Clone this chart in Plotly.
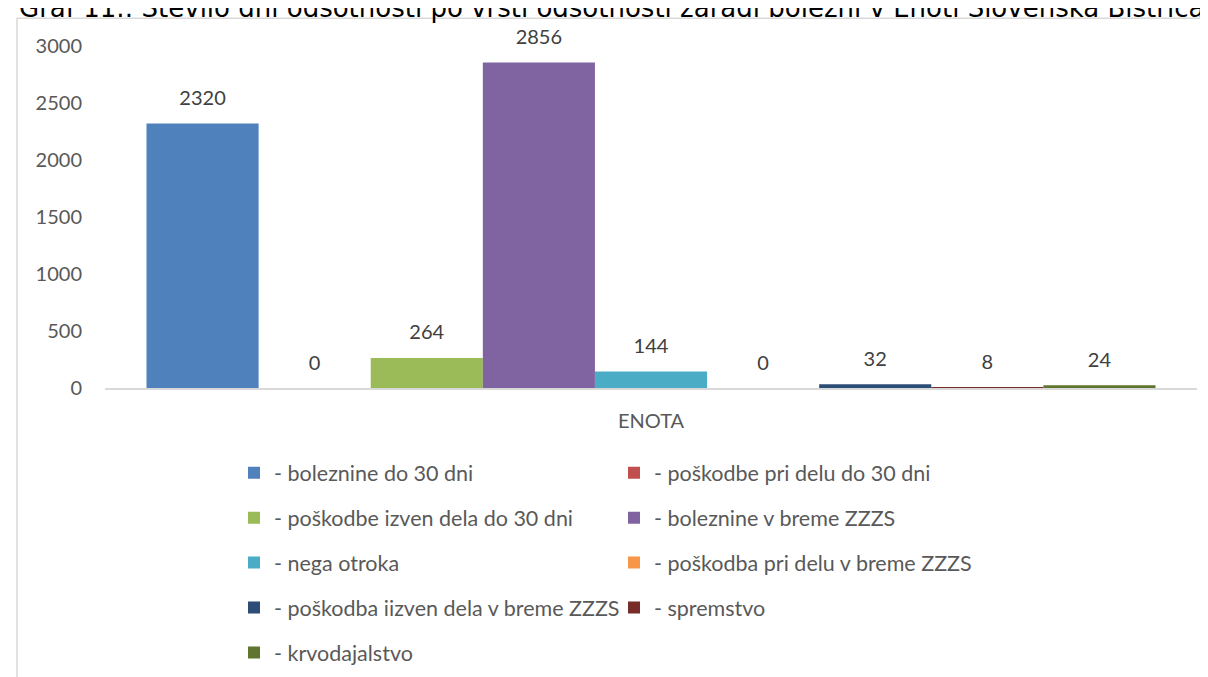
import plotly.graph_objects as go

categories = ["ENOTA"]
series_names = [
    "- boleznine do 30 dni",
    "- poškodbe pri delu do 30 dni",
    "- poškodbe izven dela do 30 dni",
    "- boleznine v breme ZZZS",
    "- nega otroka",
    "- poškodba pri delu v breme ZZZS",
    "- poškodba iizven dela v breme ZZZS",
    "- spremstvo",
    "- krvodajalstvo",
]
series_values = [2320, 0, 264, 2856, 144, 0, 32, 8, 24]
series_colors = ["#4F81BD", "#C0504D", "#9BBB59", "#8064A2", "#4BACC6",
                 "#F79646", "#2C4D75", "#772C2A", "#5F7530"]
y_ticks = [0, 500, 1000, 1500, 2000, 2500, 3000]
title_text = "Graf 11.: Število dni odsotnosti po vrsti odsotnosti zaradi bolezni v Enoti Slovenska Bistrica"

W, H = 1208, 677
ML, MR, MT, MB = 97, 19, 38, 293
PW, PH = W - ML - MR, H - MT - MB
GAP = 0.076
FONT = "Lato"

def px_x(p):
    return (p - ML) / PW

def px_y(p):
    return (H - MB - p) / PH

fig = go.Figure()
for i, (name, val, col) in enumerate(zip(series_names, series_values, series_colors)):
    fig.add_trace(go.Bar(
        x=categories, y=[val], name=name,
        marker=dict(color=col, line=dict(width=0)),
        legend="legend" if i % 2 == 0 else "legend2",
        legendgroup=f"g{i}",
        hoverinfo="skip",
    ))
for i, val in enumerate(series_values):
    fig.add_trace(go.Scatter(
        x=categories, y=[val], mode="markers+text",
        text=[str(val)], textposition="top center",
        textfont=dict(family=FONT, size=20, color="#404040"),
        marker=dict(size=20, opacity=0),
        showlegend=False, hoverinfo="skip", cliponaxis=False,
    ))

fig.update_layout(
    width=W, height=H,
    margin=dict(l=ML, r=MR, t=MT, b=MB, pad=0),
    paper_bgcolor="white", plot_bgcolor="white",
    barmode="group", bargap=GAP, bargroupgap=0,
    scattermode="group", scattergap=GAP,
    font=dict(family=FONT, size=20, color="#595959"),
    xaxis=dict(
        showgrid=False, zeroline=False, showline=True,
        linecolor="#D9D9D9", linewidth=1.5, ticks="",
        tickfont=dict(family=FONT, size=20, color="#595959"),
        ticklabelstandoff=14,
    ),
    yaxis=dict(
        range=[0, 3000], tickvals=y_ticks, showgrid=False, zeroline=False,
        showline=False, ticks="",
        tickfont=dict(family=FONT, size=20, color="#595959"),
        ticklabelstandoff=22,
    ),
    legend=dict(
        orientation="v", x=px_x(226), y=px_y(449), xanchor="left", yanchor="top",
        font=dict(family=FONT, size=21.5, color="#595959"),
        tracegroupgap=14, bgcolor="rgba(0,0,0,0)",
    ),
    legend2=dict(
        orientation="v", x=px_x(606), y=px_y(449), xanchor="left", yanchor="top",
        font=dict(family=FONT, size=21.5, color="#595959"),
        tracegroupgap=14, bgcolor="rgba(0,0,0,0)",
    ),
    showlegend=True,
)

fig.add_shape(
    type="rect", xref="paper", yref="paper",
    x0=px_x(9), x1=px_x(1240), y0=px_y(10), y1=px_y(720),
    line=dict(color="#D9D9D9", width=1.5), fillcolor="rgba(0,0,0,0)", layer="below",
)
fig.add_annotation(
    text=title_text, xref="paper", yref="paper",
    x=px_x(603), y=px_y(17), xanchor="center", yanchor="bottom",
    showarrow=False, font=dict(family="DejaVu Sans", size=26, color="#000000"),
)

fig.write_html("out.html")
